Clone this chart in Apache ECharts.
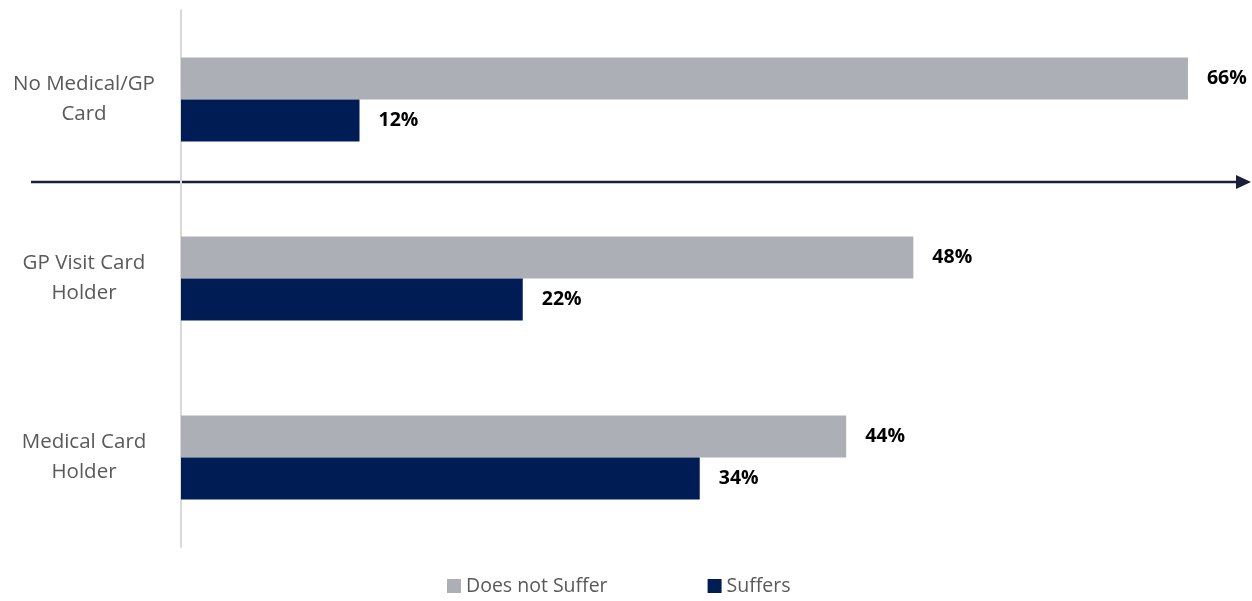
<!DOCTYPE html>
<html>
<head>
<meta charset="utf-8">
<script src="https://cdn.jsdelivr.net/npm/echarts@6/dist/echarts.min.js"></script>
<style>
  html, body { margin: 0; padding: 0; background: #fff; }
  #chart { width: 1252px; height: 601px; }
</style>
</head>
<body>
<div id="chart"></div>
<script>
const categories = ['No Medical/GP\nCard', 'GP Visit Card\nHolder', 'Medical Card\nHolder'];
const doesNotSuffer = [66.0, 48.0, 43.6];
const suffers = [11.7, 22.4, 34.0];

const chart = echarts.init(document.getElementById('chart'));
const font = "'Open Sans', sans-serif";

const option = {
  animation: false,
  grid: { left: 181, right: 3, top: 10, bottom: 54 },
  legend: {
    data: ['Does not Suffer', 'Suffers'],
    bottom: 0,
    left: 442,
    icon: 'rect',
    itemWidth: 14,
    itemHeight: 14,
    itemGap: 100,
    textStyle: { color: '#595959', fontSize: 19.5, fontFamily: font }
  },
  xAxis: {
    type: 'value',
    min: 0,
    max: 70,
    show: false
  },
  yAxis: {
    type: 'category',
    inverse: true,
    data: categories,
    axisLine: { show: true, lineStyle: { color: '#d9d9d9', width: 2 } },
    axisTick: { show: false },
    axisLabel: {
      align: 'center',
      margin: 97,
      color: '#595959',
      fontSize: 20.5,
      lineHeight: 30,
      fontFamily: font
    }
  },
  series: [
    {
      name: 'Does not Suffer',
      type: 'bar',
      data: doesNotSuffer,
      barWidth: 42,
      barGap: '0%',
      itemStyle: { color: '#adafb7' },
      label: {
        show: true,
        position: 'right',
        distance: 19,
        color: '#000',
        fontWeight: 'bold',
        fontSize: 19.5,
        fontFamily: font,
        formatter: p => Math.round(p.value) + '%'
      }
    },
    {
      name: 'Suffers',
      type: 'bar',
      data: suffers,
      barWidth: 42,
      barGap: '0%',
      itemStyle: { color: '#001c54' },
      label: {
        show: true,
        position: 'right',
        distance: 19,
        color: '#000',
        fontWeight: 'bold',
        fontSize: 19.5,
        fontFamily: font,
        formatter: p => Math.round(p.value) + '%'
      }
    }
  ],
  graphic: [
    {
      type: 'line',
      shape: { x1: 31, y1: 182, x2: 1238, y2: 182 },
      style: { stroke: '#1b1e3b', lineWidth: 2.5 }
    },
    {
      type: 'polygon',
      shape: { points: [[1236, 175], [1251, 182], [1236, 189]] },
      style: { fill: '#1b1e3b' }
    }
  ]
};

chart.setOption(option);
</script>
</body>
</html>
